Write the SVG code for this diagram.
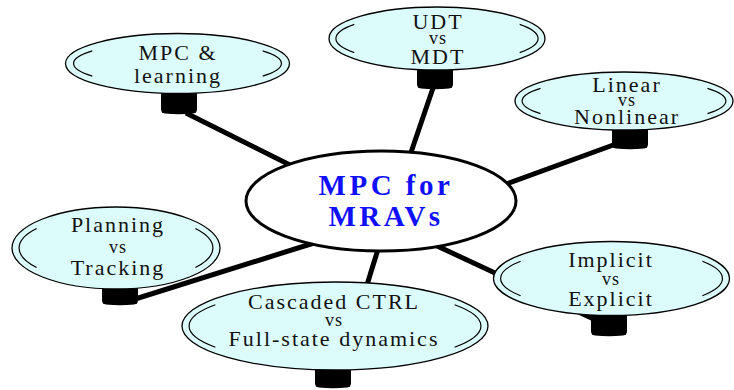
<svg xmlns="http://www.w3.org/2000/svg" xmlns:xlink="http://www.w3.org/1999/xlink" width="734" height="390" viewBox="0 0 734 390" font-family="'Liberation Serif', 'DejaVu Serif', serif">
<style>
  .conn { stroke: #000; stroke-width: 5; fill: none; stroke-linecap: butt; }
  .plug { fill: #000; }
  .node { fill: #dcfcfc; stroke: #000; stroke-width: 1.3; }
  .inner { fill: none; stroke: #000; stroke-width: 1.2; }
  text { font-family: 'Liberation Serif', 'DejaVu Serif', serif; }
  .lbl { font-size: 22px; letter-spacing: 2px; fill: #111; text-anchor: middle; }
  .vs { font-size: 18px; letter-spacing: 1px; fill: #111; text-anchor: middle; }
  .center { fill: #fff; stroke: #000; stroke-width: 3; }
  .title { font-size: 29px; font-weight: bold; letter-spacing: 3.5px; fill: #1010ff; text-anchor: middle; }
</style>
<defs>
  <path id="plugShape" d="M0,0 H36 V20 Q36,24 32,24.5 Q18,26 4,24.5 Q0,24 0,20 Z"/>
</defs>

<g id="connectors">
  <line class="conn" x1="186" y1="113" x2="310" y2="175"/>
  <line class="conn" x1="433" y1="88" x2="405" y2="170"/>
  <line class="conn" x1="616" y1="144" x2="490" y2="190"/>
  <line class="conn" x1="420" y1="238" x2="600" y2="322"/>
  <line class="conn" x1="384" y1="230" x2="366" y2="288"/>
  <line class="conn" x1="132" y1="300" x2="330" y2="238"/>
</g>

<g id="plugs">
  <use class="plug" xlink:href="#plugShape" x="161" y="89"/>
  <use class="plug" xlink:href="#plugShape" x="417" y="64"/>
  <use class="plug" xlink:href="#plugShape" x="612" y="124"/>
  <use class="plug" xlink:href="#plugShape" x="591" y="311"/>
  <use class="plug" xlink:href="#plugShape" x="102" y="280"/>
  <use class="plug" xlink:href="#plugShape" x="315" y="363"/>
</g>

<g id="node-learning">
  <ellipse class="node" cx="177.5" cy="63.5" rx="112" ry="30"/>
  <path class="inner" d="M92.3,50.9 A104,22 0 0 0 92.3,76.1 M262.7,50.9 A104,22 0 0 1 262.7,76.1"/>
  <text class="lbl" x="178" y="60">MPC &amp;</text>
  <text class="lbl" x="178" y="83">learning</text>
</g>

<g id="node-udt">
  <ellipse class="node" cx="437" cy="38.5" rx="108" ry="31.5"/>
  <path class="inner" d="M354.3,24.4 A101,24.5 0 0 0 354.3,52.6 M519.7,24.4 A101,24.5 0 0 1 519.7,52.6"/>
  <text class="lbl" x="438" y="29">UDT</text>
  <text class="vs" x="438" y="44">vs</text>
  <text class="lbl" x="438" y="64">MDT</text>
</g>

<g id="node-linear">
  <ellipse class="node" cx="624" cy="101" rx="109" ry="29"/>
  <path class="inner" d="M540.5,88.4 A102,22 0 0 0 540.5,113.6 M707.5,88.4 A102,22 0 0 1 707.5,113.6"/>
  <text class="lbl" x="627" y="92">Linear</text>
  <text class="vs" x="627" y="106">vs</text>
  <text class="lbl" x="627" y="124">Nonlinear</text>
</g>

<g id="node-implicit">
  <ellipse class="node" cx="611.5" cy="278.5" rx="118" ry="37"/>
  <path class="inner" d="M520.6,261.3 A111,30 0 0 0 520.6,295.7 M702.4,261.3 A111,30 0 0 1 702.4,295.7"/>
  <text class="lbl" x="611" y="267">Implicit</text>
  <text class="vs" x="611" y="285">vs</text>
  <text class="lbl" x="611" y="306">Explicit</text>
</g>

<g id="node-planning">
  <ellipse class="node" cx="116" cy="248" rx="104" ry="41"/>
  <path class="inner" d="M36.6,228.5 A97,34 0 0 0 36.6,267.5 M195.4,228.5 A97,34 0 0 1 195.4,267.5"/>
  <text class="lbl" x="118" y="232">Planning</text>
  <text class="vs" x="118" y="253">vs</text>
  <text class="lbl" x="118" y="275">Tracking</text>
</g>

<g id="node-cascaded">
  <ellipse class="node" cx="335" cy="326" rx="153" ry="44"/>
  <path class="inner" d="M215.4,304.8 A146,37 0 0 0 215.4,347.2 M454.6,304.8 A146,37 0 0 1 454.6,347.2"/>
  <text class="lbl" x="334" y="309">Cascaded CTRL</text>
  <text class="vs" x="334" y="326">vs</text>
  <text class="lbl" x="334" y="346">Full-state dynamics</text>
</g>

<g id="node-center">
  <ellipse class="center" cx="381" cy="201" rx="135" ry="50"/>
  <text class="title" x="386" y="195">MPC for</text>
  <text class="title" x="386" y="226" letter-spacing="5">MRAVs</text>
</g>
</svg>
